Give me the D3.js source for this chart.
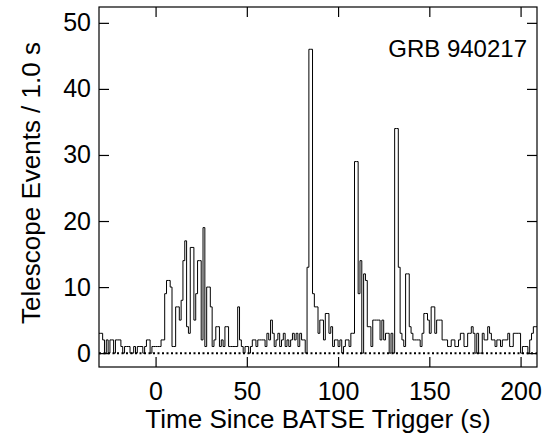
<!DOCTYPE html>
<html>
<head>
<meta charset="utf-8">
<script src="https://cdn.jsdelivr.net/npm/d3@7"></script>
<style>
  body { margin: 0; background: #fff; }
  text { font-family: "Liberation Sans", Arial, sans-serif; fill: #000; }
</style>
</head>
<body>
<script>
var w = 546;
var h = 446;
var margin = {top: 7, right: 9, bottom: 79, left: 99};

// time bins (1 s) start at this value
var binStart = -31;
var binWidth = 1;

// counts per 1 s bin, t = -31 .. 208
var counts = [
    3, 3, 2, 0, 2, 0, 2, 2, 0, 2,
    2, 2, 1, 0, 1, 1, 1, 0, 0, 1,
    0, 1, 1, 1, 0, 1, 2, 2, 0, 1,
    1, 1, 1, 1, 2, 2, 9, 11, 11, 10,
    1, 1, 7, 7, 5, 8, 14, 17, 4, 3,
    16, 16, 5, 9, 14, 14, 2, 19, 1, 10,
    10, 7, 1, 2, 4, 4, 1, 2, 1, 4,
    4, 1, 1, 1, 1, 1, 7, 2, 1, 0,
    1, 1, 0, 1, 2, 2, 1, 2, 2, 2,
    2, 1, 3, 2, 5, 3, 1, 2, 3, 1,
    2, 3, 1, 2, 1, 2, 3, 2, 3, 1,
    3, 2, 2, 0, 13, 46, 46, 9, 7, 7,
    3, 5, 5, 2, 6, 6, 3, 4, 1, 2,
    2, 1, 2, 0, 1, 2, 2, 1, 3, 3,
    29, 29, 9, 14, 0, 12, 11, 4, 4, 1,
    5, 5, 5, 5, 2, 5, 2, 3, 3, 0,
    3, 0, 34, 34, 13, 3, 2, 1, 12, 12,
    4, 3, 2, 2, 2, 2, 1, 3, 6, 6,
    5, 3, 7, 7, 3, 5, 5, 5, 2, 2,
    2, 1, 1, 2, 2, 1, 1, 2, 3, 3,
    1, 1, 3, 3, 4, 3, 0, 3, 0, 0,
    3, 2, 2, 4, 3, 2, 2, 1, 2, 2,
    1, 2, 2, 2, 3, 1, 1, 3, 3, 3,
    3, 0, 1, 1, 1, 0, 2, 3, 4, 4
];

var xTicks = [0, 50, 100, 150, 200];
var yTicks = [0, 10, 20, 30, 40, 50];
var xDomain = [-31, 209];
var yDomain = [-2.1, 52.4];

var xLabel = "Time Since BATSE Trigger (s)";
var yLabel = "Telescope Events / 1.0 s";
var title = "GRB 940217";

var iw = w - margin.left - margin.right;
var ih = h - margin.top - margin.bottom;

var svg = d3.select("body")
            .append("svg")
            .attr("width", w)
            .attr("height", h);

var g = svg.append("g")
           .attr("transform", "translate(" + margin.left + "," + margin.top + ")");

var xScale = d3.scaleLinear().domain(xDomain).range([0, iw]);
var yScale = d3.scaleLinear().domain(yDomain).range([ih, 0]);

// step points: one per bin start plus the closing edge
var points = counts.map(function(c, i) {
    return [binStart + i * binWidth, c];
});
points.push([binStart + counts.length * binWidth, counts[counts.length - 1]]);

g.append("clipPath")
 .attr("id", "clip")
 .append("rect")
 .attr("width", iw)
 .attr("height", ih);

// zero line (dotted)
g.append("line")
 .attr("x1", 0)
 .attr("x2", iw)
 .attr("y1", yScale(0))
 .attr("y2", yScale(0))
 .attr("stroke", "#000")
 .attr("stroke-width", 2)
 .attr("stroke-dasharray", "2,2.5");

var line = d3.line()
             .x(function(d) { return xScale(d[0]); })
             .y(function(d) { return yScale(d[1]); })
             .curve(d3.curveStepAfter);

g.append("path")
 .datum(points)
 .attr("clip-path", "url(#clip)")
 .attr("fill", "none")
 .attr("stroke", "#000")
 .attr("stroke-width", 1)
 .attr("d", line);

// axes with inward ticks
var tick = 10;
g.append("g")
 .attr("transform", "translate(0," + ih + ")")
 .call(d3.axisBottom(xScale).tickValues(xTicks).tickSizeInner(-tick).tickSizeOuter(0).tickPadding(15))
 .attr("class", "axis");
g.append("g")
 .call(d3.axisTop(xScale).tickValues(xTicks).tickSizeInner(-tick).tickSizeOuter(0).tickFormat(""))
 .attr("class", "axis");
g.append("g")
 .call(d3.axisLeft(yScale).tickValues(yTicks).tickSizeInner(-tick).tickSizeOuter(0).tickPadding(8))
 .attr("class", "axis");
g.append("g")
 .attr("transform", "translate(" + iw + ",0)")
 .call(d3.axisRight(yScale).tickValues(yTicks).tickSizeInner(-tick).tickSizeOuter(0).tickFormat(""))
 .attr("class", "axis");

g.selectAll(".axis .domain").remove();
g.selectAll(".axis line").attr("stroke", "#000").attr("stroke-width", 1.2);
g.selectAll(".axis text")
 .attr("font-size", 25)
 .attr("font-family", "'Liberation Sans', Arial, sans-serif")
 .attr("fill", "#000");

// frame
g.append("rect")
 .attr("width", iw)
 .attr("height", ih)
 .attr("fill", "none")
 .attr("stroke", "#000")
 .attr("stroke-width", 1.2);

g.append("text")
 .attr("x", iw - 10)
 .attr("y", 50)
 .attr("text-anchor", "end")
 .attr("font-size", 24)
 .text(title);

svg.append("text")
 .attr("x", margin.left + iw / 2)
 .attr("y", 428)
 .attr("text-anchor", "middle")
 .attr("font-size", 26)
 .text(xLabel);

svg.append("text")
 .attr("transform", "translate(40," + (margin.top + ih / 2 - 4) + ") rotate(-90)")
 .attr("text-anchor", "middle")
 .attr("font-size", 26)
 .text(yLabel);
</script>
</body>
</html>
